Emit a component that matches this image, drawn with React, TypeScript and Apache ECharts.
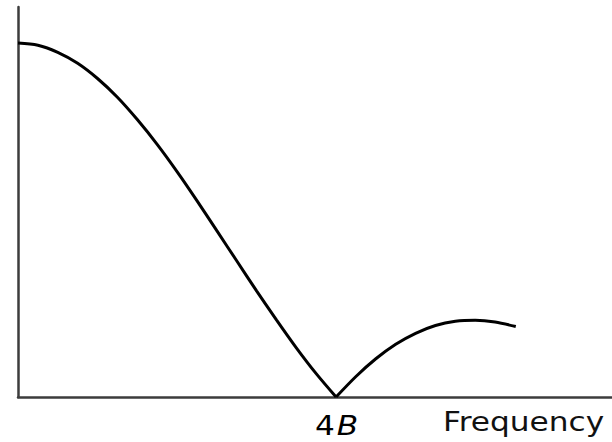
import React, { useEffect, useRef } from "react";
import * as echarts from "echarts";

// Frequency in units of B, relative amplitude
const mainLobeFreq = [0, 0.25, 0.5, 0.75, 1, 1.25, 1.5, 1.75, 2, 2.25, 2.5, 2.75, 3, 3.25, 3.5, 3.75, 4];
const mainLobeAmp = [1.0, 0.994, 0.974, 0.943, 0.9, 0.847, 0.784, 0.714, 0.637, 0.555, 0.47, 0.385, 0.3, 0.218, 0.139, 0.066, 0.0];
const sideLobeFreq = [4, 4.25, 4.5, 4.75, 5, 5.25, 5.5, 5.75, 6, 6.26];
const sideLobeAmp = [0.0, 0.058, 0.108, 0.149, 0.18, 0.202, 0.214, 0.217, 0.212, 0.199];
const tickLabel = { n: "4", i: "B" };
const axisTitle = "Frequency";

export default function App() {
  const ref = useRef<HTMLDivElement>(null);
  useEffect(() => {
    const chart = echarts.init(ref.current!, undefined, { renderer: "svg" });
    const lobe = (fs: number[], as: number[]) => fs.map((f, i) => [f, as[i]]);
    const lineSeries = (data: number[][]) => ({
      type: "line",
      data,
      showSymbol: false,
      smooth: 0.3,
      lineStyle: { color: "#000", width: 3 },
      clip: false,
    });
    chart.setOption({
      animation: false,
      grid: { left: 18, right: 0, top: 7, bottom: 45, outerBoundsMode: "none" },
      xAxis: {
        type: "value",
        min: 0,
        max: 7.47,
        axisLine: { show: true, onZero: false, lineStyle: { color: "#3c3c3c", width: 2.5 } },
        axisTick: { show: false },
        axisLabel: { show: false },
        splitLine: { show: false },
      },
      yAxis: {
        type: "value",
        min: 0,
        max: 1.102,
        axisLine: { show: true, lineStyle: { color: "#3c3c3c", width: 2.5 } },
        axisTick: { show: false },
        axisLabel: { show: false },
        splitLine: { show: false },
      },
      series: [
        lineSeries(lobe(mainLobeFreq, mainLobeAmp)),
        lineSeries(lobe(sideLobeFreq, sideLobeAmp)),
      ],
      graphic: [
        {
          type: "text",
          x: 315,
          y: 413,
          scaleX: 1.2,
          style: {
            text: `{n|${tickLabel.n}}{s| }{i|${tickLabel.i}}`,
            fill: "#000",
            font: '26px "DejaVu Sans"',
            rich: {
              n: { fontFamily: "DejaVu Sans", fontSize: 26, fill: "#000" },
              s: { fontFamily: "DejaVu Sans", fontSize: 5, fill: "#000" },
              i: { fontFamily: "DejaVu Sans", fontSize: 26, fontStyle: "italic", fill: "#000" },
            },
          },
        },
        {
          type: "text",
          x: 443,
          y: 409,
          scaleX: 1.2,
          style: {
            text: axisTitle,
            fill: "#111",
            font: '26px "DejaVu Sans"',
          },
        },
      ],
    });
    return () => chart.dispose();
  }, []);
  return (
    <div
      ref={ref}
      style={{ position: "absolute", left: 0, top: 0, width: 612, height: 442 }}
    />
  );
}
